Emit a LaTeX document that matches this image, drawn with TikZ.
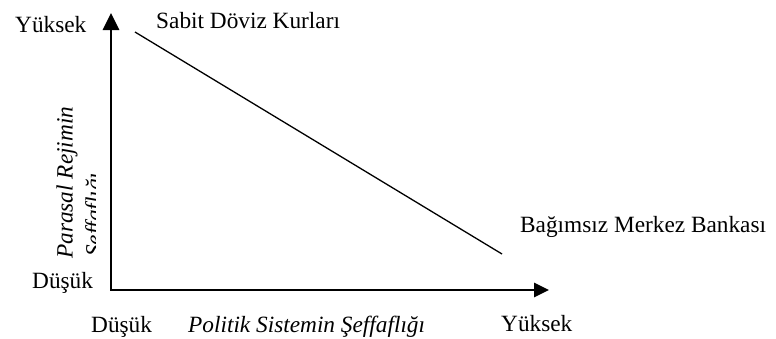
\documentclass[tikz,border=0pt]{standalone}
\usepackage{fontspec}
\setmainfont{Liberation Serif}
\usetikzlibrary{arrows.meta}
\tikzset{
  lbl/.style={inner sep=0pt, anchor=base west, font=\fontsize{23.3}{27}\selectfont},
  ilbl/.style={lbl, font=\fontsize{23.3}{27}\selectfont\itshape},
  axis/.style={line width=2.7pt, line join=miter,
    {Triangle[length=17pt,width=16pt]}-{Triangle[length=15pt,width=14pt]}},
  trend/.style={line width=1.3pt}
}
\begin{document}
\begin{tikzpicture}[x=1pt,y=-1pt]
\useasboundingbox[fill=white] (0,0) rectangle (776,338);
\coordinate (ytop) at (111,13);
\coordinate (origin) at (111,290);
\coordinate (xend) at (549,290);
\coordinate (dstart) at (135,32);
\coordinate (dend) at (502,254);
\draw[axis] (ytop) -- (origin) -- (xend);
\draw[trend] (dstart) -- (dend);
\node[lbl] (yhigh) at (15,32) {Yüksek};
\node[lbl] (ylow) at (32,288) {Düşük};
\node[lbl] (xlow) at (91,332) {Düşük};
\node[lbl] (xhigh) at (501,331) {Yüksek};
\node[ilbl] (xtitle) at (188,332) {Politik Sistemin Şeffaflığı};
\node[lbl] (fixed) at (156,28) {Sabit Döviz Kurları};
\node[lbl] (cb) at (520,232) {Bağımsız Merkez Bankası};
\node[ilbl, rotate=90] (ytitle1) at (72.5,259) {Parasal Rejimin};
\begin{scope}
  \clip (0,0) rectangle (95,338);
  \node[ilbl, rotate=90] (ytitle2) at (101.5,257) {Şeffaflığı};
\end{scope}
\end{tikzpicture}
\end{document}
